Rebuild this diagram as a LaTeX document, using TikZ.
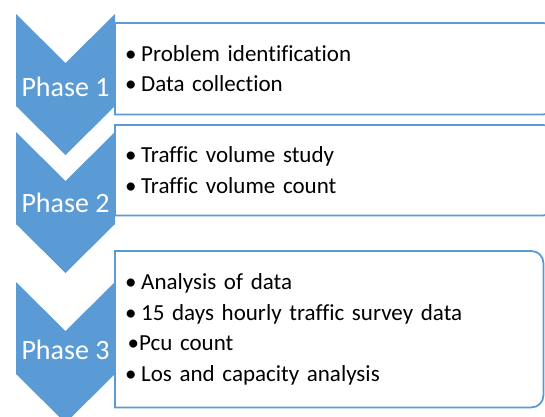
\documentclass[tikz,border=0pt]{standalone}
\usepackage{fontspec}
\setmainfont{Carlito}[Ligatures=CommonOff]
\usetikzlibrary{positioning}
\definecolor{accent}{HTML}{5B9BD5}

\begin{document}
\begin{tikzpicture}[x=1pt, y=-1pt,
                every node/.style={inner sep=0pt},
                chev/.style={fill=accent},
                phase/.style={text=white, anchor=base, font=\fontsize{28}{30}\selectfont},
                box/.style={anchor=north west, minimum height=#1, text width=420pt, inner xsep=10pt,
                            align=left, font=\fontsize{23}{30.5}\selectfont},
                rim/.style={draw=accent, line width=1.8pt, line cap=rect}]

    \clip (0,0) rectangle (545,416); % page size in px

    % text boxes on the right
    \node[box=91]  (b1) at (115,23)  {\makebox[16pt][l]{•}Problem identification\\
                                      \makebox[16pt][l]{•}Data collection};
    \node[box=90]  (b2) at (115,125) {\makebox[16pt][l]{•}Traffic volume study\\
                                      \makebox[16pt][l]{•}Traffic volume count};
    \node[box=156, text width=408pt] (b3) at (115,251)
                                     {\makebox[16pt][l]{•}Analysis of data\\
                                      \makebox[16pt][l]{•}15 days hourly traffic survey data\\
                                      \hspace*{2.5pt}•Pcu count\\
                                      \makebox[16pt][l]{•}Los and capacity analysis};

    % square on the left, rounded on the right
    \foreach \b in {b1, b2, b3} {
        \draw[rim] (\b.north west) -- (\b.south west);
        \draw[rim, rounded corners=12pt] (\b.north west) -- (\b.north east)
                   -- (\b.south east) -- (\b.south west);
    }

    % chevrons
    \foreach \yy in {14, 132, 282}
        \fill[chev] (16,\yy) -- ++(49.5,49) -- ++(49.5,-49) -- ++(0,92)
                    -- ++(-49.5,49) -- ++(-49.5,-49) -- cycle;

    \node[phase] (p1) at (65.5,96)  {Phase 1};
    \node[phase] (p2) at (65.5,212) {Phase 2};
    \node[phase] (p3) at (65.5,359) {Phase 3};

\end{tikzpicture}
\end{document}
